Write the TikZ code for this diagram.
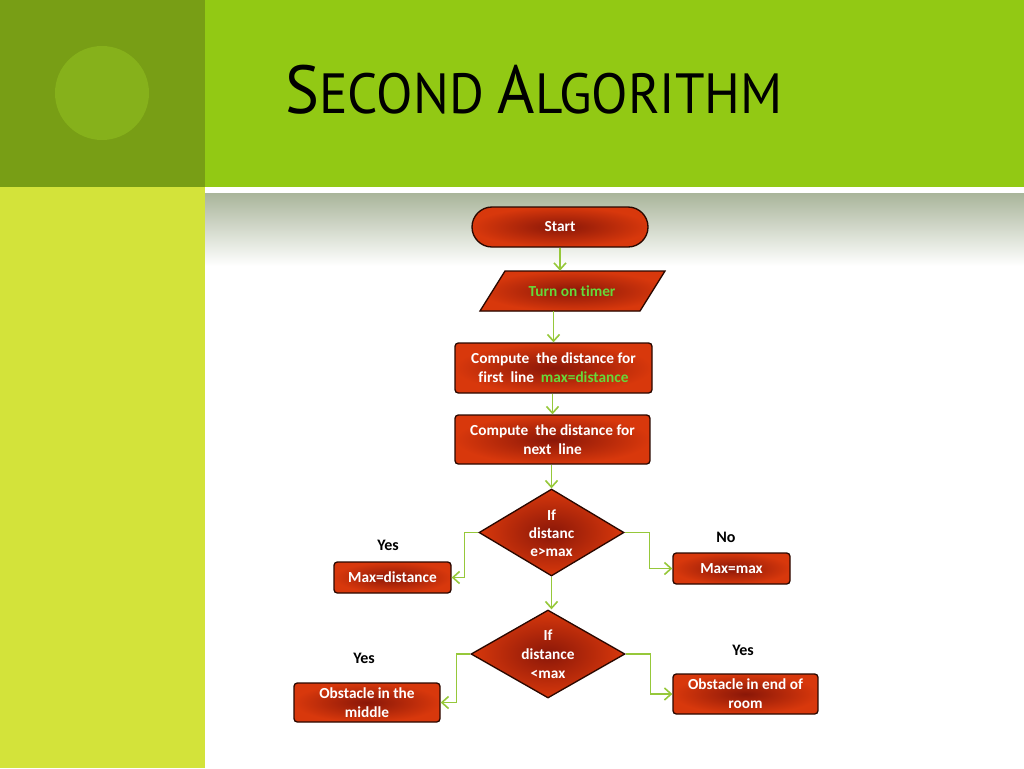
\documentclass[tikz,border=0pt]{standalone}
\usepackage{fontspec}
\setmainfont[Ligatures=NoCommon]{Carlito}
\newfontfamily\titlefont{PT Sans}
\usetikzlibrary{shapes.geometric,arrows.meta}
\definecolor{panelDark}{HTML}{789E15}
\definecolor{panelCirc}{HTML}{86B11B}
\definecolor{bandGreen}{HTML}{92C914}
\definecolor{panelLight}{HTML}{D3E33A}
\definecolor{grayTop}{HTML}{A9B59A}
\definecolor{redIn}{HTML}{8A1708}
\definecolor{redOut}{HTML}{D8380C}
\definecolor{edge}{HTML}{2A0800}
\definecolor{txtGreen}{HTML}{66D93A}
\definecolor{arrGreen}{HTML}{96C83A}
\newcommand\tbig[1]{{\fontsize{51pt}{51pt}\selectfont #1}}
\newcommand\tsmall[1]{{\fontsize{42.5pt}{42.5pt}\selectfont #1}}
\begin{document}
\begin{tikzpicture}[x=0.75pt,y=-0.75pt,
  redshape/.style={draw=edge, line width=1pt, shade, inner color=redIn, outer color=redOut},
  box/.style={redshape, rounded corners=2.5pt, inner sep=0pt, align=center, text=white,
     font=\bfseries\fontsize{11.5pt}{14.25pt}\selectfont},
  dia/.style={redshape, diamond, inner sep=0pt},
  dtext/.style={inner sep=0pt, align=center, text=white, font=\bfseries\fontsize{11.5pt}{14.25pt}\selectfont},
  lab/.style={inner sep=0pt, text=black, font=\bfseries\fontsize{12pt}{14pt}\selectfont},
  arr/.style={draw=arrGreen, line width=1.2pt, -{Straight Barb[length=5pt,width=9pt]}}
]
\useasboundingbox (0,0) rectangle (1024,768);
\fill[white] (0,0) rectangle (1024,768);
\fill[panelDark] (0,0) rectangle (205,187);
\fill[bandGreen] (205,0) rectangle (1024,187);
\fill[panelCirc] (102,93) circle[radius=35.25pt];
\fill[panelLight] (0,187) rectangle (205,768);
\shade[top color=grayTop, bottom color=white] (205,193) rectangle (1024,266);

\node[anchor=base west, inner sep=0pt] (title) at (285,113)
  {\titlefont\scalebox{0.94}[1]{\tbig{S}\tsmall{ECOND}\hspace{11pt}\tbig{A}\tsmall{LGORITHM}}};

% flowchart
\node[box, rounded corners=15pt, minimum width=132pt, minimum height=30pt] (start) at (560,227) {Start};
\filldraw[redshape] (505,271) -- (665,271) -- (640,311) -- (480,311) -- cycle;
\node[dtext, minimum height=30pt, text=txtGreen] (timer) at (572,291) {Turn on timer};
\node[box, minimum width=147.75pt, minimum height=37.5pt] (box1) at (553.5,368)
  {Compute\ \ the distance for\\first\ \ line\ \ \textcolor{txtGreen}{max=distance}};
\node[box, minimum width=146.25pt, minimum height=36.75pt] (box2) at (552.5,439.5)
  {Compute\ \ the distance for\\next\ \ line};
\node[dia, minimum width=108.75pt, minimum height=65.25pt] (d1) at (551.5,532.5) {};
\node[dtext, font=\bfseries\fontsize{11.5pt}{13.5pt}\selectfont] (d1t) at (551.5,533) {If\\distanc\\e>max};
\node[box, minimum width=87.75pt, minimum height=23.25pt] (maxd) at (392.5,577.5) {Max=distance};
\node[box, minimum width=87.75pt, minimum height=23.25pt] (maxm) at (731.5,568.5) {Max=max};
\node[dia, minimum width=115.5pt, minimum height=66pt] (d2) at (548,654) {};
\node[dtext] (d2t) at (548,654) {If\\distance\\<max};
\node[box, minimum width=109.5pt, minimum height=29.25pt] (ob1) at (367,702.5) {Obstacle in the\\middle};
\node[box, minimum width=108.75pt, minimum height=30pt] (ob2) at (745.5,694) {Obstacle in end of\\room};

\node[lab] (yes1) at (388,545) {Yes};
\node[lab] (no1) at (726,537) {No};
\node[lab] (yes2) at (364,658) {Yes};
\node[lab] (yes3) at (743,650) {Yes};

\draw[arr] (start.south) -- (start.south |- timer.north);
\draw[arr] (box1.north |- timer.south) -- (box1.north);
\draw[arr] (box2.north |- box1.south) -- (box2.north);
\draw[arr] (d1.north |- box2.south) -- (d1.north);
\draw[arr] (d1.west) -- ++(-14,0) |- (maxd.east);
\draw[arr] (d1.east) -- ++(25,0) |- (maxm.west);
\draw[arr] (d1.south) -- (d1.south |- d2.north);
\draw[arr] (d2.west) -- ++(-14,0) |- (ob1.east);
\draw[arr] (d2.east) -- ++(25,0) |- (ob2.west);
\end{tikzpicture}
\end{document}
